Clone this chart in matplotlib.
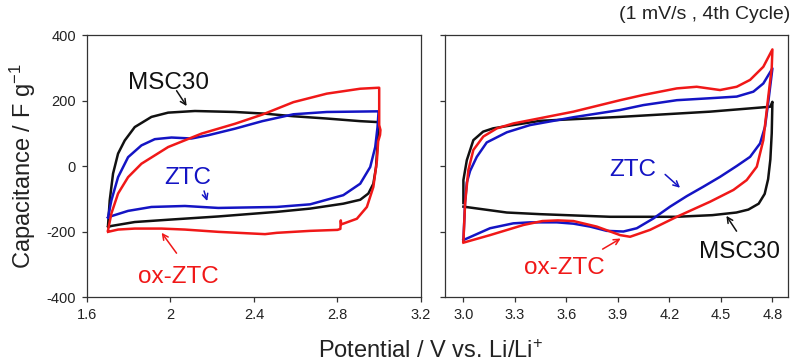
import matplotlib
matplotlib.use('Agg')
import matplotlib.pyplot as plt

plt.rcParams['font.family'] = ['Liberation Sans', 'DejaVu Sans']
plt.rcParams['mathtext.default'] = 'regular'
plt.rcParams['axes.unicode_minus'] = False

# ---- left panel (1.7 - 3.0 V) ----
msc30_l_v = [1.701, 1.709, 1.725, 1.749, 1.781, 1.829, 1.909, 1.989, 2.117, 2.309, 2.45, 2.589, 2.749, 2.909, 2.997,
             2.992, 2.985, 2.972, 2.948, 2.909, 2.828, 2.669, 2.509, 2.229, 1.989, 1.829, 1.717, 1.701]
msc30_l_c = [-181, -105, -23, 38, 78, 119, 150, 163, 168, 165, 160, 152, 145, 137, 134,
             68, -3, -54, -84, -103, -115, -130, -140, -154, -164, -171, -183, -186]

ztc_l_v = [1.701, 1.717, 1.749, 1.797, 1.861, 1.925, 2.005, 2.101, 2.181, 2.309, 2.44, 2.589, 2.749, 2.997,
           2.992, 2.981, 2.957, 2.909, 2.828, 2.669, 2.509, 2.229, 2.069, 1.909, 1.797, 1.717, 1.701]
ztc_l_c = [-156, -105, -34, 27, 63, 82, 87, 84, 94, 114, 137, 158, 165, 167,
           119, 58, -3, -54, -89, -117, -125, -128, -122, -125, -137, -153, -158]

oxztc_l_v = [1.701, 1.717, 1.749, 1.797, 1.861, 1.989, 2.149, 2.309, 2.44, 2.589, 2.749, 2.909, 2.997,
             3.0, 3.0, 3.006, 3.004, 2.995, 2.989, 2.972, 2.941, 2.893, 2.828, 2.818, 2.816, 2.814,
             2.80, 2.669, 2.509, 2.453, 2.229, 2.069, 1.957, 1.829, 1.749, 1.701]
oxztc_l_c = [-196, -145, -84, -34, 7, 58, 99, 129, 157, 195, 221, 236, 239,
             239, 125, 110, 95, 75, 17, -64, -125, -161, -176, -178, -166, -192,
             -195, -198, -204, -208, -201, -194, -191, -191, -194, -201]

# ---- right panel (3.0 - 4.8 V) ----
msc30_r_v = [3.0, 3.0, 3.02, 3.058, 3.115, 3.173, 3.29, 3.447, 3.913, 4.437, 4.787, 4.8,
             4.796, 4.788, 4.775, 4.755, 4.72, 4.66, 4.59, 4.45, 4.243, 3.854, 3.447, 3.253, 3.056, 3.0]
msc30_r_c = [-113, -43, 18, 79, 105, 115, 125, 138, 150, 166, 181, 196,
             100, 20, -40, -85, -115, -133, -142, -150, -155, -155, -147, -142, -128, -124]

ztc_r_v = [3.0, 3.01, 3.02, 3.039, 3.078, 3.136, 3.253, 3.388, 3.641, 3.913, 4.048, 4.243, 4.437, 4.592,
           4.689, 4.747, 4.8,
           4.777, 4.757, 4.728, 4.67, 4.592, 4.495, 4.398, 4.301, 4.204, 4.107, 4.01, 3.932, 3.835,
           3.738, 3.641, 3.544, 3.388, 3.291, 3.155, 3.0]
ztc_r_c = [-226, -110, -50, -15, 28, 72, 103, 125, 149, 171, 186, 201, 207, 212,
           227, 252, 298,
           200, 120, 69, 28, 0, -33, -63, -92, -124, -160, -190, -200, -198,
           -185, -176, -172, -172, -175, -190, -226]

oxztc_r_v = [3.0, 3.01, 3.029, 3.058, 3.116, 3.195, 3.291, 3.447, 3.641, 3.913, 4.048, 4.243, 4.359, 4.495,
             4.592, 4.67, 4.747, 4.8,
             4.796, 4.776, 4.747, 4.709, 4.65, 4.573, 4.437, 4.243, 4.087, 3.971, 3.913, 3.777, 3.641,
             3.55, 3.46, 3.35, 3.155, 3.0]
oxztc_r_c = [-231, -113, -12, 49, 90, 115, 130, 146, 166, 201, 217, 237, 242, 232,
             242, 263, 303, 356,
             300, 212, 79, -2, -43, -73, -109, -155, -195, -216, -211, -185, -168,
             -166, -168, -180, -211, -234]

red = '#f01818'
blue = '#1414c4'
black = '#111111'
lw = 1.8

fig = plt.figure(figsize=(7.92, 3.64), dpi=100)
ax1 = fig.add_axes([0.1098, 0.184, 0.4217, 0.7198])
ax2 = fig.add_axes([0.5619, 0.184, 0.4331, 0.7198])

ax1.plot(msc30_l_v, msc30_l_c, color=black, lw=lw)
ax1.plot(ztc_l_v, ztc_l_c, color=blue, lw=lw)
ax1.plot(oxztc_l_v, oxztc_l_c, color=red, lw=lw)

ax2.plot(msc30_r_v, msc30_r_c, color=black, lw=lw)
ax2.plot(ztc_r_v, ztc_r_c, color=blue, lw=lw)
ax2.plot(oxztc_r_v, oxztc_r_c, color=red, lw=lw)

ax1.set_xlim(1.6, 3.2)
ax1.set_ylim(-400, 400)
ax1.set_xticks([1.6, 2.0, 2.4, 2.8, 3.2])
ax1.set_xticklabels(['1.6', '2', '2.4', '2.8', '3.2'])
ax1.set_yticks([-400, -200, 0, 200, 400])
ax1.set_yticklabels(['-400', '-200', '0', '200', '400'])

ax2.set_xlim(2.893, 4.891)
ax2.set_ylim(-400, 400)
ax2.set_xticks([3.0, 3.3, 3.6, 3.9, 4.2, 4.5, 4.8])
ax2.set_xticklabels(['3.0', '3.3', '3.6', '3.9', '4.2', '4.5', '4.8'])
ax2.set_yticks([-400, -200, 0, 200, 400])
ax2.set_yticklabels([])

for ax in (ax1, ax2):
    for s in ax.spines.values():
        s.set_linewidth(0.9)
        s.set_color('#333333')
    ax.tick_params(direction='out', length=3.5, width=0.9, color='#333333',
                   labelsize=10.5, pad=4.5, labelcolor='#222222')

fs = 17.5
arr = dict(arrowstyle='->', lw=1.1, mutation_scale=10)

# left labels
ax1.text(1.989, 255, 'MSC30', color=black, fontsize=fs, ha='center', va='center')
ax1.annotate('', xy=(2.085, 176), xytext=(2.022, 237), arrowprops=dict(arr, color=black))
ax1.text(2.085, -37, 'ZTC', color=blue, fontsize=fs, ha='center', va='center')
ax1.annotate('', xy=(2.18, -115), xytext=(2.157, -68), arrowprops=dict(arr, color=blue))
ax1.text(2.037, -340, 'ox-ZTC', color=red, fontsize=fs, ha='center', va='center')
ax1.annotate('', xy=(1.950, -197), xytext=(2.037, -273), arrowprops=dict(arr, color=red))

# right labels
ax2.text(3.988, -13, 'ZTC', color=blue, fontsize=fs, ha='center', va='center')
ax2.annotate('', xy=(4.274, -72), xytext=(4.163, -20), arrowprops=dict(arr, color=blue))
ax2.text(3.586, -312, 'ox-ZTC', color=red, fontsize=fs, ha='center', va='center')
ax2.annotate('', xy=(3.930, -217), xytext=(3.797, -258), arrowprops=dict(arr, color=red))
ax2.text(4.606, -262, 'MSC30', color=black, fontsize=fs, ha='center', va='center')
ax2.annotate('', xy=(4.523, -145), xytext=(4.600, -206), arrowprops=dict(arr, color=black))

fig.text(0.029, 0.544, 'Capacitance / F g$^{-1}$', rotation=90, ha='center', va='center',
         fontsize=17, color='#222222')
fig.text(0.543, 0.033, 'Potential / V vs. Li/Li$^{+}$', ha='center', va='center',
         fontsize=17, color='#222222')
fig.text(0.9975, 0.959, '(1 mV/s , 4th Cycle)', ha='right', va='center', fontsize=14,
         color='#222222')

fig.savefig('out.png', dpi=100)
